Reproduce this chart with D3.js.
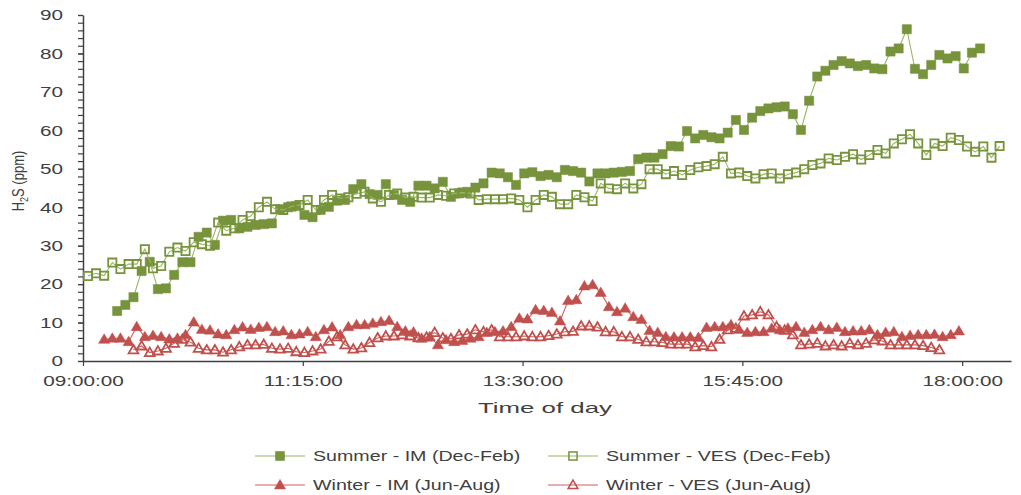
<!DOCTYPE html>
<html>
<head>
<meta charset="utf-8">
<script src="https://cdn.jsdelivr.net/npm/d3@7"></script>
<style>
  body { margin: 0; background: #fff; }
  text { font-family: "Liberation Sans", Arial, sans-serif; fill: #404040; }
</style>
</head>
<body>
<svg id="chart" width="1021" height="495"></svg>
<script>
// H2S concentration, 5-minute readings through the working day
const STEP_MIN = 5;

const summerIMStart = "09:21";
const summerIM = [
  13.0,14.6,16.6,23.4,25.8,18.7,18.9,22.4,25.7,25.7,
  32.3,33.4,30.2,36.5,36.7,34.5,34.9,35.4,35.6,35.8,
  39.5,40.0,40.3,38.0,37.4,39.3,40.1,41.7,41.9,44.7,
  46.0,43.4,43.2,46.0,43.2,41.9,41.4,45.6,45.6,44.9,
  46.6,42.7,43.6,44.0,45.1,46.2,49.0,48.8,47.8,45.8,
  48.8,49.1,48.1,48.4,47.8,49.7,49.4,49.0,46.7,48.8,
  48.8,49.0,49.2,49.4,52.5,52.9,52.9,53.8,55.9,55.8,
  59.8,57.9,58.8,58.2,57.9,59.4,62.7,60.1,63.3,65.0,
  65.7,66.0,66.2,64.2,60.1,67.7,74.0,75.5,77.0,78.0,
  77.4,76.7,77.0,76.1,75.9,80.5,81.3,86.3,76.0,74.6,
  77.0,79.6,78.7,79.3,76.1,80.2,81.3
];

const summerVESStart = "09:03";
const summerVES = [
  22.1,22.8,22.2,25.6,23.9,25.2,25.2,29.1,24.1,24.7,
  28.4,29.5,28.6,30.9,30.4,30.0,36.0,33.9,34.5,36.7,
  37.7,40.0,41.4,39.5,39.3,40.2,40.6,41.9,39.3,41.9,
  43.2,42.3,42.6,43.5,44.0,42.3,41.4,43.2,43.6,42.5,
  42.7,42.5,42.5,43.2,43.0,43.6,43.8,43.6,41.9,42.1,
  42.1,42.1,42.3,41.9,40.0,41.9,43.2,42.7,40.8,40.8,
  43.2,42.6,41.6,46.2,44.9,44.7,46.2,44.9,46.0,49.9,
  49.9,48.6,49.4,48.4,49.7,50.4,50.7,51.2,53.1,48.8,
  49.0,48.1,47.5,48.6,48.8,47.5,48.6,49.0,49.9,51.0,
  51.4,52.7,52.3,53.1,53.8,52.4,53.6,54.9,54.0,56.6,
  57.7,59.0,56.6,53.6,56.6,55.9,58.1,57.5,55.8,54.4,
  55.8,52.9,55.9
];

const winterIMStart = "09:13";
const winterIM = [
  5.6,5.9,5.9,5.0,8.9,6.3,6.6,6.3,5.7,5.9,
  6.8,10.1,8.2,8.0,7.0,6.8,8.1,8.8,8.2,8.7,
  8.9,7.6,7.8,6.8,7.0,7.6,6.3,8.1,8.8,6.8,
  8.9,9.4,9.4,9.8,10.2,10.5,8.9,7.8,7.5,5.9,
  6.3,4.2,5.5,5.0,5.3,5.9,6.3,7.4,7.6,7.8,
  8.9,11.1,10.9,13.3,13.1,12.6,10.4,15.7,15.9,19.5,
  19.8,17.8,14.1,12.8,13.7,11.5,10.8,7.9,7.4,6.3,
  6.2,6.2,6.2,6.1,8.7,8.9,8.9,9.4,8.2,7.4,
  7.6,7.6,8.5,8.1,8.5,8.9,7.4,8.1,8.9,8.1,
  8.7,7.6,7.8,7.8,8.1,6.8,7.4,7.6,6.3,6.6,
  6.8,6.8,6.9,6.3,6.8,7.8
];

const winterVESStart = "09:31";
const winterVES = [
  2.9,3.9,2.2,2.6,3.3,4.6,5.6,4.9,3.3,2.9,
  2.9,2.3,2.9,3.7,4.2,4.2,4.3,3.3,3.1,3.3,
  2.4,2.2,2.6,3.1,5.1,6.3,4.2,3.1,3.4,4.8,
  6.0,6.5,6.5,6.8,6.5,6.0,6.2,7.4,6.0,5.8,
  6.8,7.0,8.1,7.6,8.1,6.3,6.3,6.3,6.5,6.3,
  6.3,6.6,7.0,7.6,7.7,9.1,9.1,8.8,7.6,7.6,
  6.3,6.3,5.6,5.0,5.0,4.8,4.4,4.4,4.4,3.7,
  4.0,3.7,5.6,8.1,8.5,11.7,12.0,12.8,12.0,8.9,
  8.0,6.8,4.2,4.4,4.6,3.9,4.2,3.9,4.6,4.2,
  4.6,5.5,5.2,4.2,4.2,4.2,4.2,4.0,3.5,2.9
];

const seriesNames = [
  "Summer - IM (Dec-Feb)",
  "Summer - VES (Dec-Feb)",
  "Winter - IM (Jun-Aug)",
  "Winter - VES (Jun-Aug)"
];

const xTickLabels = ["09:00", "11:15", "13:30", "15:45", "18:00"];
const xDomain = ["09:00", "18:30"];
const yTicks = [0, 10, 20, 30, 40, 50, 60, 70, 80, 90];
const yMinorTicks = d3.range(0, 91, 2);

// ---- helpers ----
const parseHM = s => { const [h, m] = s.split(":").map(Number); return new Date(2000, 0, 1, h, m); };
const toPoints = (start, vals) => {
  const t0 = parseHM(start);
  return vals.map((v, i) => ({ t: d3.timeMinute.offset(t0, i * STEP_MIN), v }));
};

const GREEN = "#77933C", GREEN_LINE = "#9AB663", RED = "#C0504D", RED_LINE = "#C9605C";
const SX = 1.38;      // horizontal text stretch for tick labels
const SX_LEG = 1.31;  // horizontal text stretch for legend entries

const series = [
  { name: seriesNames[0], pts: toPoints(summerIMStart, summerIM), color: GREEN, line: GREEN_LINE, shape: "square", filled: true },
  { name: seriesNames[1], pts: toPoints(summerVESStart, summerVES), color: GREEN, line: GREEN_LINE, shape: "square", filled: false },
  { name: seriesNames[2], pts: toPoints(winterIMStart, winterIM), color: RED, line: RED_LINE, shape: "triangle", filled: true },
  { name: seriesNames[3], pts: toPoints(winterVESStart, winterVES), color: RED, line: RED_LINE, shape: "triangle", filled: false }
];

const svg = d3.select("#chart");
const x = d3.scaleTime().domain(xDomain.map(parseHM)).range([83, 1011]);
const y = d3.scaleLinear().domain([0, 90]).range([361, 15]);

function stretch(sel, sx) {
  sel.each(function () {
    const t = d3.select(this);
    const x0 = +t.attr("x") || 0;
    t.attr("transform", `translate(${x0},0) scale(${sx},1) translate(${-x0},0)`);
  });
}

function markerPath(shape, filled) {
  if (shape === "square") {
    const h = filled ? 4.6 : 4.1;
    return `M${-h},${-h}H${h}V${h}H${-h}Z`;
  }
  const w = filled ? 5.6 : 4.9, top = filled ? -5.6 : -4.9, bot = filled ? 3.9 : 3.5;
  return `M0,${top}L${w},${bot}L${-w},${bot}Z`;
}

// ---- axes ----
const axisColor = "#404040";

const yMinor = svg.append("g").attr("transform", "translate(83,0)")
  .call(d3.axisLeft(y).tickValues(yMinorTicks).tickSize(5).tickFormat(""));
yMinor.select(".domain").remove();
yMinor.selectAll("line").attr("stroke", axisColor).attr("stroke-width", 1.2);

const yAxis = svg.append("g").attr("transform", "translate(83,0)")
  .call(d3.axisLeft(y).tickValues(yTicks).tickSize(5).tickSizeOuter(0).tickPadding(15));
yAxis.select(".domain").attr("stroke", axisColor).attr("stroke-width", 1.5);
yAxis.selectAll("line").attr("stroke", axisColor).attr("stroke-width", 1.2);
yAxis.selectAll("text").attr("font-size", 15).style("font-family", "Liberation Sans, Arial, sans-serif").attr("fill", "#404040");
stretch(yAxis.selectAll("text"), SX);

const xAxis = svg.append("g").attr("transform", "translate(0,361)")
  .call(d3.axisBottom(x).tickValues(xTickLabels.map(parseHM)).tickFormat(d3.timeFormat("%H:%M:%S"))
    .tickSize(5).tickSizeOuter(0).tickPadding(9));
xAxis.select(".domain").attr("stroke", axisColor).attr("stroke-width", 1.5);
xAxis.selectAll("line").attr("stroke", axisColor).attr("stroke-width", 1.2);
xAxis.selectAll("text").attr("font-size", 15).style("font-family", "Liberation Sans, Arial, sans-serif").attr("fill", "#404040");
stretch(xAxis.selectAll("text"), SX);

// axis titles
svg.append("text").attr("x", 545).attr("y", 413).attr("text-anchor", "middle")
  .attr("font-size", 15).attr("textLength", 134).attr("lengthAdjust", "spacingAndGlyphs")
  .text("Time of day");

const yTitle = svg.append("text")
  .attr("transform", `translate(24,181) scale(1.2,1) rotate(-90)`)
  .attr("text-anchor", "middle").attr("font-size", 13);
yTitle.append("tspan").text("H");
yTitle.append("tspan").attr("font-size", 9).attr("dy", 3).text("2");
yTitle.append("tspan").attr("dy", -3).text("S (ppm)");

// ---- series ----
const line = d3.line().x(d => x(d.t)).y(d => y(d.v));
series.forEach(s => {
  const g = svg.append("g");
  g.append("path").datum(s.pts).attr("d", line)
    .attr("fill", "none").attr("stroke", s.line).attr("stroke-width", 1.1);
  g.selectAll("path.m").data(s.pts).join("path").attr("class", "m")
    .attr("transform", d => `translate(${x(d.t)},${y(d.v)})`)
    .attr("d", markerPath(s.shape, s.filled))
    .attr("fill", s.filled ? s.color : "none")
    .attr("stroke", s.color)
    .attr("stroke-width", s.filled ? 0.5 : 1.8);
});

// ---- legend ----
const legendPos = [
  { lx: 255, ty: 456 }, { lx: 548, ty: 456 },
  { lx: 255, ty: 485 }, { lx: 548, ty: 485 }
];
series.forEach((s, i) => {
  const p = legendPos[i];
  const g = svg.append("g").attr("transform", `translate(${p.lx},${p.ty})`);
  g.append("line").attr("x1", 0).attr("x2", 50).attr("y1", 0).attr("y2", 0)
    .attr("stroke", s.line).attr("stroke-width", 1.2);
  g.append("path").attr("transform", "translate(25,0)")
    .attr("d", markerPath(s.shape, s.filled))
    .attr("fill", s.filled ? s.color : "none")
    .attr("stroke", s.color).attr("stroke-width", s.filled ? 0.5 : 1.5);
  g.append("text").attr("x", 58).attr("y", 5).attr("font-size", 15)
    .attr("transform", `translate(58,0) scale(${SX_LEG},1) translate(-58,0)`)
    .text(s.name);
});
</script>
</body>
</html>
